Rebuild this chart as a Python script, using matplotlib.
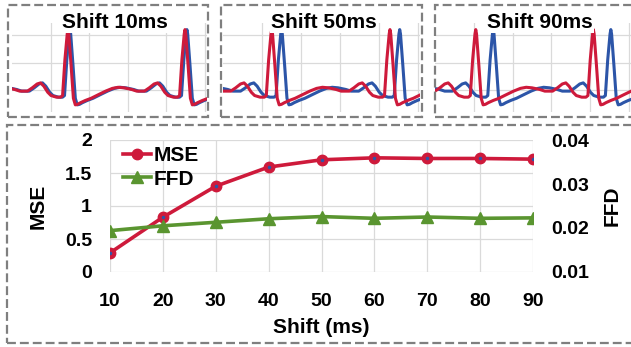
import matplotlib
matplotlib.use("Agg")
import matplotlib.pyplot as plt
from matplotlib.patches import Rectangle
import numpy as np

plt.rcParams["font.family"] = ["Liberation Sans", "DejaVu Sans"]
plt.rcParams["font.weight"] = "bold"

W, H = 631, 347

# main chart data
SHIFT_MS = [10, 20, 30, 40, 50, 60, 70, 80, 90]
MSE = [0.29, 0.83, 1.30, 1.59, 1.70, 1.73, 1.72, 1.72, 1.71]
FFD = [0.0194, 0.0205, 0.0213, 0.0221, 0.0226, 0.0222, 0.0225, 0.0222, 0.0223]
MSE_TICKS = [0, 0.5, 1, 1.5, 2]
FFD_TICKS = [0.01, 0.02, 0.03, 0.04]

# ecg panels: one beat (ms relative to R peak, amplitude)
PANEL_SHIFTS = [10, 50, 90]
BEAT_T = [-250, -210, -185, -160, -142, -125, -105, -88, -60, -38, -28, -16,
          -4, 0, 4, 16, 28, 38, 50, 65, 90, 120, 160, 195, 230, 260, 290, 330, 356]
BEAT_V = [-0.02, -0.02, 0.04, 0.11, 0.13, 0.07, -0.04, -0.10, -0.13, -0.13, -0.10, 0.55,
          1.02, 1.10, 1.02, 0.45, -0.15, -0.27, -0.26, -0.23, -0.19, -0.15, -0.08, -0.02,
          0.03, 0.05, 0.04, 0.01, -0.02]
R_PEAKS_MS = [-306, 300, 906]

RED = "#CE1A3B"
BLUE = "#2C55A8"
GREEN = "#5A9530"
GRID = "#DADADA"
BOX = "#7F7F7F"


def fig_rect(x0, y0, x1, y1):
    return [x0 / W, 1 - y1 / H, (x1 - x0) / W, (y1 - y0) / H]


def dashed_box(fig, x0, y0, x1, y1):
    r = Rectangle((x0 / W, 1 - y1 / H), (x1 - x0) / W, (y1 - y0) / H,
                  transform=fig.transFigure, fill=False, edgecolor=BOX,
                  linewidth=1.6, linestyle=(0, (4, 1.8)), clip_on=False)
    fig.patches.append(r)


def trace(offset):
    t, v = [], []
    for r in R_PEAKS_MS:
        t.extend(np.array(BEAT_T) + r + offset)
        v.extend(BEAT_V)
    return t, v


fig = plt.figure(figsize=(W / 100, H / 100), dpi=100)

panel_px = [(12, 207, 8, 208, 115), (223, 420, 221, 422, 324), (435, 631, 435, 645, 540)]
for (ax0, ax1, bx0, bx1, tx), shift in zip(panel_px, PANEL_SHIFTS):
    dashed_box(fig, bx0, 5, bx1, 117)
    pax = fig.add_axes(fig_rect(ax0, 23, ax1, 112))
    bt, bv = trace(0)
    rt, rv = trace(-shift)
    pax.plot(bt, bv, color=BLUE, lw=2.2, solid_capstyle="round", solid_joinstyle="round")
    pax.plot(rt, rv, color=RED, lw=2.2, solid_capstyle="round", solid_joinstyle="round")
    pax.set_xlim(0, 1010)
    pax.set_ylim(-0.40, 1.22)
    pax.set_xticks([200, 400, 600, 800, 1000])
    pax.set_yticks([0, 0.5, 1.0])
    pax.grid(True, color=GRID, lw=0.9)
    pax.set_axisbelow(True)
    pax.tick_params(length=0, labelbottom=False, labelleft=False)
    for s in pax.spines.values():
        s.set_visible(False)
    fig.text(tx / W, 1 - 28 / H, f"Shift {shift}ms", ha="center", va="baseline",
             fontsize=15, fontweight="bold", zorder=5,
             bbox=dict(facecolor="white", edgecolor="none", pad=0.5))

# main chart
dashed_box(fig, 7, 125, 645, 343)
ax = fig.add_axes(fig_rect(110, 140, 533, 272))
ax.plot(SHIFT_MS, MSE, color=RED, lw=2.6, marker="o", markersize=7.5,
        markerfacecolor=RED, markeredgecolor=RED, label="MSE")
ax.plot(SHIFT_MS, MSE, linestyle="none", marker="o", markersize=1.5, color=BLUE)
ax.set_xlim(10, 90)
ax.set_ylim(0, 2)
ax.set_xticks(SHIFT_MS)
ax.set_yticks(MSE_TICKS)
ax.set_yticklabels(["0", "0.5", "1", "1.5", "2"])
ax.grid(True, color=GRID, lw=0.9)
ax.set_axisbelow(True)
ax.tick_params(length=0, labelsize=14)
ax.tick_params(axis="x", pad=15)
ax.tick_params(axis="y", pad=13)
for s in ax.spines.values():
    s.set_visible(False)
ax.set_xlabel("Shift (ms)", fontsize=15, fontweight="bold", labelpad=6)
ax.set_ylabel("MSE", fontsize=15, fontweight="bold", labelpad=12)

ax2 = ax.twinx()
ax2.plot(SHIFT_MS, FFD, color=GREEN, lw=2.6, marker="^", markersize=8,
         markerfacecolor=GREEN, markeredgecolor=GREEN, label="FFD")
ax2.set_ylim(0.01, 0.04)
ax2.set_yticks(FFD_TICKS)
ax2.set_yticklabels([f"{v:.2f}" for v in FFD_TICKS])
ax2.tick_params(length=0, labelsize=14, pad=13)
for s in ax2.spines.values():
    s.set_visible(False)
ax2.set_ylabel("FFD", fontsize=15, fontweight="bold", labelpad=10)

h1, l1 = ax.get_legend_handles_labels()
h2, l2 = ax2.get_legend_handles_labels()
leg = ax2.legend(h1[:1] + h2, l1[:1] + l2, loc="upper left", frameon=False,
                 prop={"size": 15, "weight": "bold"}, handlelength=1.35,
                 handletextpad=0.15, labelspacing=0.22, borderaxespad=0.0,
                 borderpad=0.1, bbox_to_anchor=(0.025, 0.97))

fig.savefig("out.png", dpi=100)
